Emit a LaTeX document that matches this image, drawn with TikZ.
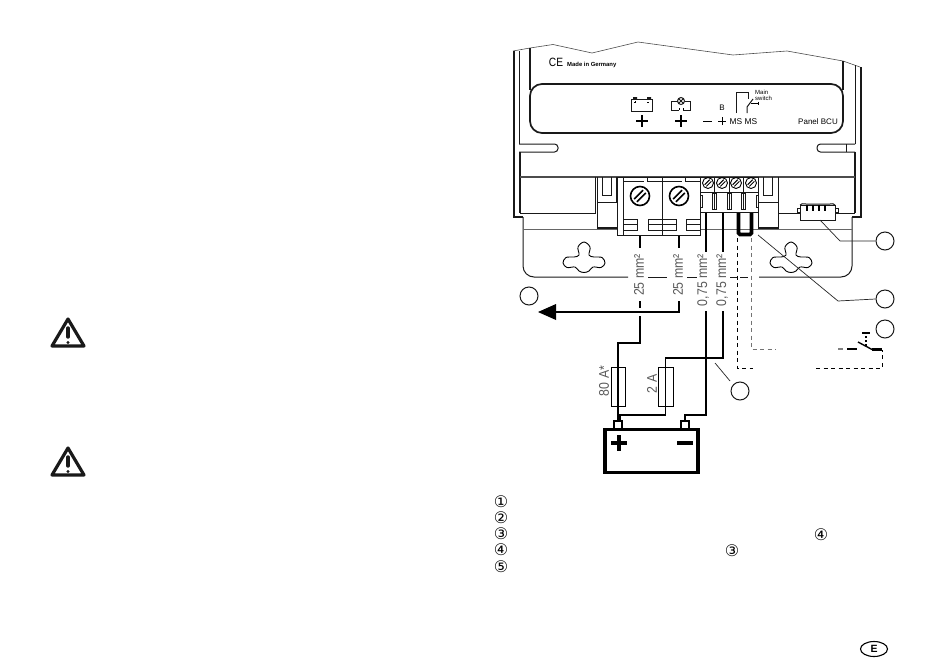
\documentclass[tikz,border=0pt]{standalone}
\usepackage{fontspec}
\setmainfont{Liberation Sans}
\newfontfamily\symfont{DejaVu Sans}
\usetikzlibrary{arrows.meta}
\newcommand{\Screw}[4]{%
  \draw[line width=#4] (#1,#2) circle[radius=#3pt];
  \draw[line width=#4] ({#1-0.62*#3},{#2+0.32*#3}) -- ({#1+0.32*#3},{#2-0.62*#3});
  \draw[line width=#4] ({#1-0.32*#3},{#2+0.62*#3}) -- ({#1+0.62*#3},{#2-0.32*#3});
}
\newcommand{\Keyhole}[2]{%
  \draw[line width=.9pt,shift={(#1,#2)}] plot[smooth cycle,tension=.6] coordinates {(0,-18) (6,-13) (5,-5) (10,-3) (18,-2.5) (21,3) (17,7.5) (9,7) (5,11) (0,12.5) (-5,11) (-9,7) (-17,7.5) (-21,3) (-18,-2.5) (-10,-3) (-5,-5) (-6,-13)};
}
\newcommand{\Warn}[2]{%
  \draw[line width=3.2pt,line join=round,black!90] (#1,{#2+1}) -- ({#1+16},{#2+28}) -- ({#1-16},{#2+28}) -- cycle;
  \draw[line width=3.4pt,line cap=round,black!90] (#1,{#2+10}) -- (#1,{#2+19});
  \fill[black!90] (#1,{#2+24.5}) circle[radius=1.6pt];
}
\tikzset{
  x=1pt,y=-1pt,
  body/.style={line width=1pt,black!90},
  thickbody/.style={line width=1.7pt,black!90},
  wire/.style={line width=2.2pt,black},
  thinwire/.style={line width=1.3pt,black},
  leader/.style={line width=.7pt,black!85},
  dashwire/.style={line width=.9pt,black,dash pattern=on 4pt off 3.5pt},
  greydash/.style={line width=.9pt,black!55,dash pattern=on 4pt off 3.5pt},
  callout/.style={circle,draw=black!90,line width=1pt,minimum size=18pt,inner sep=0pt},
  sizelabel/.style={rotate=90,inner sep=0pt,text=black!65,font=\fontsize{14}{14}\selectfont},
  paneltext/.style={inner sep=0pt,text=black},
  fuse/.style={draw=black,line width=1pt,fill=white,inner sep=0pt,minimum width=14pt,minimum height=39pt},
  numeral/.style={inner sep=0pt,font=\symfont\fontsize{16}{16}\selectfont},
}
\begin{document}
\begin{tikzpicture}
\useasboundingbox (0,0) rectangle (950,659);

% warning triangles
\Warn{68}{318}
\Warn{68}{447}

% torn top edge and housing
\draw[line width=.6pt,black!70] (513,51) -- (530,48) -- (553,44.5) -- (592,53) -- (638,42) -- (733,55) -- (787,51) -- (843,61) -- (860,67);
\draw[thickbody] (514,51) -- (514,217) -- (523,217);
\draw[body] (519,51) -- (519,144);
\draw[body] (855,65) -- (855,144);
\draw[thickbody] (861,67) -- (861,217) -- (852,217);
\draw[thickbody] (530,48) -- (530,90);
\draw[thickbody] (843,61) -- (843,90);
\draw[thickbody,rounded corners=12pt] (530,84) rectangle (843,133);

% mounting plate
\draw[body,rounded corners=11pt] (628,277) -- (523,277) -- (523,217);
\draw[body,rounded corners=11pt] (759,277) -- (852,277) -- (852,217);
\draw[body] (648,277) -- (667,277) (687,277) -- (697,277) (730,277) -- (737,277) (740,277) -- (748,277);
\draw[line width=.9pt,black!60] (523,229) -- (852,229);
\Keyhole{584}{260}
\Keyhole{791}{260}

% slots
\draw[body,rounded corners=3.5pt] (519,144) -- (558,144) -- (558,152) -- (519,152);
\draw[body,rounded corners=3.5pt] (855,144) -- (817,144) -- (817,152) -- (855,152);
\draw[body] (846,144) -- (846,152);
\draw[thickbody] (520,152) -- (520,213);
\draw[thickbody] (855,152) -- (855,213);
\draw[thickbody,black!70] (520,177) -- (855,177);
\draw[body] (520,213) -- (595,213) -- (595,177);
\draw[body] (778,177) -- (778,213) -- (855,213);

% side clips
\draw[body] (597,202) -- (597,227) (617,202) -- (597,202);
\draw[body] (597,177) -- (597,202) (602,177) -- (602,195) (611,177) -- (611,195) -- (602,195) (616,177) -- (616,202);
\draw[thickbody] (597,228) -- (617,228);
\draw[body] (758,202) -- (778,202) -- (778,229);
\draw[body] (758,177) -- (758,229) (763,177) -- (763,195) -- (772,195) -- (772,177);
\draw[thickbody] (758,228) -- (778,228);

% large terminals
\draw[body,fill=white] (617,177) rectangle (700,235);
\draw[body] (623,177) -- (623,235) (662,177) -- (662,235);
\draw[body] (623,181) -- (644,181) (647,177) -- (647,181) -- (682,181) (685,177) -- (685,181) -- (700,181);
\draw[body] (623,219) rectangle (637,230) (623,224) -- (637,224);
\draw[body] (648,219) rectangle (676,230) (648,224) -- (676,224);
\draw[body] (686,219) rectangle (700,230) (686,224) -- (700,224);
\Screw{640}{196}{9.5}{1.6pt}
\Screw{679}{196}{9.5}{1.6pt}

% small terminals
\draw[body,fill=white] (700,177) rectangle (758,192);
\draw[body,fill=white] (700,192) rectangle (758,212);
\draw[body] (714.5,177) -- (714.5,192) (729,177) -- (729,192) (743.5,177) -- (743.5,192);
\foreach \sx in {708,722,736,751}{\Screw{\sx}{183}{5.5}{.9pt}}
\foreach \sx in {714,729,743}{
  \draw[body] ({\sx-2},193) rectangle ({\sx+2},209) (\sx,193) -- (\sx,209);
}
\draw[body] (700,195) -- (702,195) -- (702,207) -- (700,207);
\draw[body] (758,195) -- (756,195) -- (756,207) -- (758,207);

% plug connector
\draw[body,fill=white] (800,205) rectangle (835,220);
\draw[body] (800,208) -- (797,208) -- (797,212) -- (800,212);
\draw[body] (835,208) -- (838,208) -- (838,212) -- (835,212);
\draw[line width=2.2pt] (807,205) -- (807,211) (813,205) -- (813,211) (819,205) -- (819,211) (825,205) -- (825,211);
\draw[body] (800,205) .. controls (801,203) and (803,204) .. (806,204) -- (830,204) .. controls (832,204) and (834,203) .. (835,205);

% jumper
\draw[line width=3.6pt,rounded corners=1.5pt,black] (738.5,213) -- (738.5,234.5) -- (751.5,234.5) -- (751.5,213);

% panel symbols
\node[paneltext,font=\fontsize{12}{12}\selectfont] (ce) at (556,62) {\scalebox{.85}[1]{CE}};
\node[paneltext,anchor=west,font=\bfseries\fontsize{5.9}{5.9}\selectfont] (made) at (567,65) {Made in Germany};
\draw[body] (631,99) rectangle (652,111);
\fill[black!90] (633,97) rectangle (637,99.5) (647,97) rectangle (651,99.5);
\draw[line width=.5pt] (634,102) -- (636,102) (635,101) -- (635,103) (647,102) -- (649,102);
\draw[line width=1.9pt] (636,121) -- (648,121) (642,115) -- (642,127);
\draw[body] (678,101) -- (671,101) -- (671,110) -- (679,110) (683,110) -- (690,110) -- (690,101) -- (684.5,101);
\draw[body] (681,101) circle[radius=3.5pt] (678.6,98.6) -- (683.4,103.4) (683.4,98.6) -- (678.6,103.4);
\draw[line width=.6pt] (679,108) -- (679,110) (683,108) -- (683,110);
\draw[line width=1.9pt] (675,121) -- (687,121) (681,115) -- (681,127);
\draw[line width=.9pt] (703,121) -- (712,121);
\draw[line width=.9pt] (718,121) -- (726,121) (722,117) -- (722,125);
\node[paneltext,font=\fontsize{8}{8}\selectfont] (bl) at (722,108) {B};
\node[paneltext,font=\fontsize{8.4}{8.4}\selectfont] (ms) at (743.5,122) {MS MS};
\draw[body] (736,113) -- (736,92) -- (748,92) -- (748,99);
\draw[body] (747,113) -- (747,107) -- (753,99);
\draw[line width=.7pt] (751,103) -- (758,103) (758,101.5) -- (758,104.5);
\node[paneltext,anchor=west,font=\fontsize{6}{6}\selectfont] (mn) at (755,92) {Main};
\node[paneltext,anchor=west,font=\fontsize{6}{6}\selectfont] (sw) at (755,98) {switch};
\node[paneltext,font=\fontsize{8}{8}\selectfont] (pb) at (818,122) {Panel BCU};

% battery
\node[draw=black,line width=3.4pt,inner sep=0pt,minimum width=93pt,minimum height=43pt] (bat) at (651.5,451) {};
\node[draw=black,line width=2.6pt,fill=white,inner sep=0pt,minimum size=8pt] (tplus) at (618,425) {};
\node[draw=black,line width=2.6pt,fill=white,inner sep=0pt,minimum size=8pt] (tminus) at (685,425) {};
\draw[line width=4pt] (611,443) -- (627,443) (619,435) -- (619,451);
\draw[line width=4pt] (677,443) -- (693,443);

% fuses
\node[fuse] (f80) at (618,386.5) {};
\node[fuse,minimum width=15pt] (f2) at (665.5,386.5) {};

% named wire points
\coordinate (a1) at (640,236); \coordinate (a2) at (640,248);
\coordinate (a3) at (640,301); \coordinate (a4) at (640,308);
\coordinate (a5) at (640,316); \coordinate (a6) at (640,343);
\coordinate (b1) at (679,236); \coordinate (b2) at (679,248);
\coordinate (b3) at (679,301); \coordinate (b4) at (679,312);
\coordinate (arrowtip) at (538,312);
\coordinate (c1) at (706,213); \coordinate (c2) at (706,252);
\coordinate (c3) at (706,311); \coordinate (c4) at (706,415);
\coordinate (d1) at (723,213); \coordinate (d2) at (723,252);
\coordinate (d3) at (723,311); \coordinate (d4) at (723,358);
\coordinate (e1) at (737,238); \coordinate (e2) at (737,368); \coordinate (e3) at (753,368);
\coordinate (g1) at (751,238); \coordinate (g2) at (751,349); \coordinate (g3) at (776,349);
\coordinate (h1) at (816,368); \coordinate (h2) at (882,368); \coordinate (h3) at (882,350);
\coordinate (s0) at (838,349); \coordinate (s1) at (847,349); \coordinate (s2) at (857,349);
\coordinate (s3) at (872,349.5); \coordinate (s4) at (882,349.5); \coordinate (s5) at (858,342);
\coordinate (s6) at (866,333);

% wires
\draw[wire] (a1) -- (a2) (a3) -- (a4) (a5) -- (a6) -| (tplus.north);
\draw[wire] (b1) -- (b2) (b3) -- (b4) -- (545,312);
\fill (arrowtip) -- (556,304) -- (556,320) -- cycle;
\draw[wire] (c1) -- (c2) (c3) -- (c4) -| (tminus.north);
\draw[thinwire] (d1) -- (d2) (d3) -- (d4) -| (f2.north) -- (f2.south) |- (620,415) -- (620,421);
\draw[dashwire] (e1) -- (e2) -- (e3);
\draw[greydash] (g1) -- (g2) -- (g3);
\draw[dashwire] (h1) -- (h2) -- (h3);

% main switch
\draw[line width=1.3pt,black!50] (s0) -- (843,349);
\draw[line width=2.8pt] (s1) -- (s2);
\draw[line width=2.8pt] (s3) -- (s4);
\draw[line width=1.4pt] (s5) -- (s3);
\draw[line width=1.4pt,dash pattern=on 2.5pt off 1.5pt] (866,346) -- (s6);
\draw[line width=1.5pt] (862,333) -- (870,333);

% size labels
\node[sizelabel] (l1) at (639,275) {\scalebox{.88}[1]{25 mm²}};
\node[sizelabel] (l2) at (678,275) {\scalebox{.88}[1]{25 mm²}};
\node[sizelabel] (l3) at (703,280) {\scalebox{.88}[1]{0,75 mm²}};
\node[sizelabel] (l4) at (722,280) {\scalebox{.88}[1]{0,75 mm²}};
\node[sizelabel] (l5) at (604,381) {\scalebox{.88}[1]{80 A*}};
\node[sizelabel] (l6) at (652,384) {\scalebox{.88}[1]{2 A}};

% callout circles
\node[callout] (c-a) at (885,241) {};
\node[callout] (c-b) at (885,299) {};
\node[callout] (c-c) at (885,329) {};
\node[callout] (c-d) at (740,391) {};
\node[callout] (c-e) at (529,296) {};
\coordinate (la1) at (820,220); \coordinate (la2) at (840,241);
\coordinate (lb1) at (758,235); \coordinate (lb2) at (838,301);
\coordinate (ld1) at (715,363); \coordinate (ld2) at (730,381);
\draw[leader] (la1) -- (la2) -- (c-a.west);
\draw[leader] (lb1) -- (lb2) -- (c-b.west);
\draw[leader] (ld1) -- (ld2);

% list markers
\node[numeral] (n1) at (501,502) {①};
\node[numeral] (n2) at (501,518) {②};
\node[numeral] (n3) at (501,534) {③};
\node[numeral] (n4) at (501,550) {④};
\node[numeral] (n5) at (501,567) {⑤};
\node[numeral] (n6) at (821,535) {④};
\node[numeral] (n7) at (732,551) {③};

% page marker
\draw[line width=1.1pt] (874,649) ellipse[x radius=13.5pt,y radius=7.5pt];
\node[inner sep=0pt,font=\bfseries\fontsize{10.5}{10.5}\selectfont] (lang) at (874,649) {E};
\end{tikzpicture}
\end{document}
